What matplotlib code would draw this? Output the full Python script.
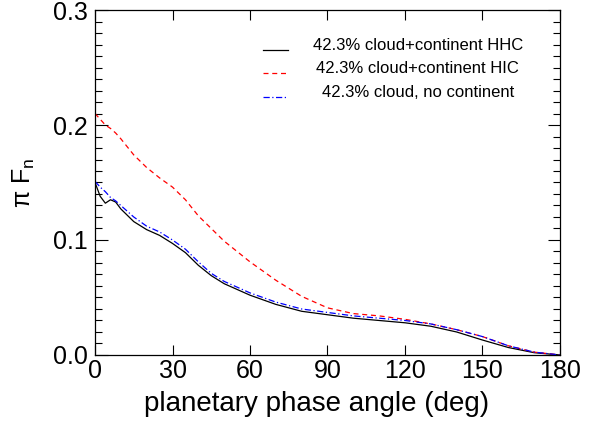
import numpy as np
import matplotlib
matplotlib.use("Agg")
import matplotlib.pyplot as plt

plt.rcParams['font.family'] = ['Liberation Sans', 'DejaVu Sans']
plt.rcParams['mathtext.fontset'] = 'custom'
plt.rcParams['mathtext.rm'] = 'Liberation Sans'
plt.rcParams['mathtext.it'] = 'Liberation Sans'

# phase angle (deg) and normalized flux
phase = [0, 2, 4, 6, 8, 10, 15, 20, 25, 30, 35, 40, 45, 50, 60, 70, 80,
         90, 100, 110, 120, 130, 140, 150, 160, 170, 180]
flux_hhc = [0.150, 0.138, 0.132, 0.135, 0.133, 0.127, 0.116, 0.109, 0.104,
            0.097, 0.089, 0.078, 0.069, 0.062, 0.052, 0.044, 0.038, 0.035,
            0.032, 0.030, 0.028, 0.025, 0.020, 0.013, 0.0065, 0.002, 0.000]
flux_hic = [0.210, 0.205, 0.200, 0.197, 0.193, 0.188, 0.174, 0.163, 0.154,
            0.146, 0.135, 0.121, 0.110, 0.099, 0.081, 0.065, 0.051, 0.041,
            0.036, 0.034, 0.031, 0.027, 0.022, 0.016, 0.008, 0.0025, 0.000]
flux_nocont = [0.151, 0.146, 0.142, 0.137, 0.134, 0.130, 0.120, 0.112, 0.107,
               0.100, 0.092, 0.081, 0.071, 0.064, 0.054, 0.046, 0.040, 0.037,
               0.034, 0.032, 0.030, 0.027, 0.022, 0.016, 0.008, 0.0025, 0.000]

labels = ['42.3% cloud+continent HHC',
          '42.3% cloud+continent HIC',
          '42.3% cloud, no continent']
colors = ['black', 'red', 'blue']
styles = ['-', (0, (4, 3)), (0, (5, 2, 1, 2))]

fig = plt.figure(figsize=(6.11, 4.28), dpi=100)
ax = fig.add_axes([0.1555, 0.1706, 0.761, 0.806])

series = [flux_hhc, flux_hic, flux_nocont]
for y, c, ls in zip(series, colors, styles):
    ax.plot(phase, y, color=c, linestyle=ls, linewidth=0.9)

ax.set_xlim(0, 180)
ax.set_ylim(0, 0.3)
ax.set_xticks(np.arange(0, 181, 30))
ax.set_yticks([0.0, 0.1, 0.2, 0.3])
ax.set_yticks(np.arange(0, 0.3001, 0.01), minor=True)
ax.set_yticklabels(['0.0', '0.1', '0.2', '0.3'])
ax.tick_params(axis='both', which='both', direction='in', top=True, right=True,
               labelsize=18, width=0.8)
ax.tick_params(axis='x', which='major', length=7, pad=3)
ax.tick_params(axis='y', which='major', length=9, pad=5)
ax.tick_params(axis='y', which='minor', length=5)
for sp in ax.spines.values():
    sp.set_linewidth(0.9)

ax.set_xlabel('planetary phase angle (deg)', fontsize=20, labelpad=6)
ax.xaxis.label.set_x(0.476)
ax.set_ylabel(r'$\pi\ \mathrm{F}_\mathrm{n}$', fontsize=18, labelpad=12)

# legend drawn by hand: short line sample, centred text
row_y = [0.884, 0.817, 0.748]
for yy, c, ls, lab in zip(row_y, colors, styles, labels):
    ax.plot([0.361, 0.415], [yy, yy], transform=ax.transAxes, color=c,
            linestyle=ls, linewidth=0.9)
    ax.text(0.694, yy + 0.014, lab, transform=ax.transAxes, ha='center',
            va='center', fontsize=12)

fig.savefig('out.png', dpi=100)
